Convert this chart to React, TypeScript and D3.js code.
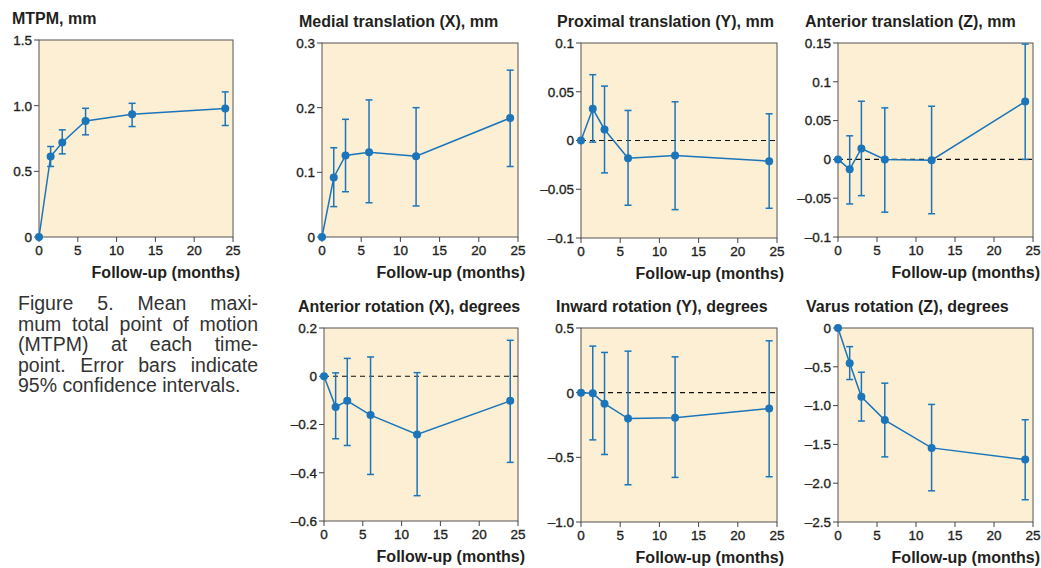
import React, { useEffect, useRef } from 'react'
import * as d3 from 'd3'

// follow-up time points (months)
const months = [0, 1.5, 3, 6, 12, 24]
const xTicks = [0, 5, 10, 15, 20, 25]

// MTPM, mm
const mtpmMean = [0, 0.613, 0.72, 0.884, 0.935, 0.978]
const mtpmLow = [null, 0.537, 0.633, 0.778, 0.841, 0.849]
const mtpmHigh = [null, 0.689, 0.816, 0.98, 1.018, 1.105]
const mtpmTicks = [0, 0.5, 1.0, 1.5]
const mtpmTickLabels = ['0', '0.5', '1.0', '1.5']

// Medial translation (X), mm
const medialMean = [0, 0.092, 0.126, 0.131, 0.125, 0.184]
const medialLow = [null, 0.047, 0.07, 0.053, 0.048, 0.109]
const medialHigh = [null, 0.138, 0.182, 0.212, 0.2, 0.258]
const medialTicks = [0, 0.1, 0.2, 0.3]
const medialTickLabels = ['0', '0.1', '0.2', '0.3']

// Proximal translation (Y), mm
const proximalMean = [0, 0.0325, 0.0113, -0.0182, -0.0154, -0.0212]
const proximalLow = [null, -0.0017, -0.0332, -0.0664, -0.0709, -0.0695]
const proximalHigh = [null, 0.0675, 0.0558, 0.0308, 0.0397, 0.0274]
const proximalTicks = [-0.1, -0.05, 0, 0.05, 0.1]
const proximalTickLabels = ['\u20130.1', '\u20130.05', '0', '0.05', '0.1']

// Anterior translation (Z), mm
const anteriorTMean = [0, -0.0128, 0.0141, 0, -0.001, 0.0745]
const anteriorTLow = [null, -0.0574, -0.0467, -0.068, -0.07, 0]
const anteriorTHigh = [null, 0.0304, 0.0749, 0.0664, 0.0685, 0.1486]
const anteriorTTicks = [-0.1, -0.05, 0, 0.05, 0.1, 0.15]
const anteriorTTickLabels = ['\u20130.1', '\u20130.05', '0', '0.05', '0.1', '0.15']

// Anterior rotation (X), degrees
const anteriorRMean = [0, -0.127, -0.102, -0.161, -0.241, -0.102]
const anteriorRLow = [null, -0.259, -0.287, -0.407, -0.495, -0.357]
const anteriorRHigh = [null, 0.014, 0.074, 0.08, 0.015, 0.149]
const anteriorRTicks = [-0.6, -0.4, -0.2, 0, 0.2]
const anteriorRTickLabels = ['\u20130.6', '\u20130.4', '\u20130.2', '0', '0.2']

// Inward rotation (Y), degrees
const inwardMean = [0, -0.005, -0.085, -0.2, -0.193, -0.123]
const inwardLow = [null, -0.365, -0.478, -0.712, -0.655, -0.65]
const inwardHigh = [null, 0.36, 0.311, 0.321, 0.277, 0.401]
const inwardTicks = [-1.0, -0.5, 0, 0.5]
const inwardTickLabels = ['\u20131.0', '\u20130.5', '0', '0.5']

// Varus rotation (Z), degrees
const varusMean = [0, -0.454, -0.886, -1.186, -1.545, -1.695]
const varusLow = [null, -0.664, -1.199, -1.661, -2.098, -2.213]
const varusHigh = [null, -0.24, -0.57, -0.711, -0.985, -1.182]
const varusTicks = [-2.5, -2.0, -1.5, -1.0, -0.5, 0]
const varusTickLabels = ['\u20132.5', '\u20132.0', '\u20131.5', '\u20131.0', '\u20130.5', '0']

const captionLines = [
  'Figure 5. Mean maxi-',
  'mum total point of motion',
  '(MTPM) at each time-',
  'point. Error bars indicate',
  '95% confidence intervals.'
]

const BLUE = '#1a75bb'
const BG = '#fdefd3'
const INK = '#231f20'
const FONT = '"Liberation Sans", Arial, Helvetica, sans-serif'

const Panel = ({ title, titleX, box, mean, low, high, yTicks, yLabels, zero }) => {
  const { l, r, t, b } = box
  const x = d3.scaleLinear().domain([0, 25]).range([l, r])
  const y = d3
    .scaleLinear()
    .domain([yTicks[0], yTicks[yTicks.length - 1]])
    .range([b, t])
  const line = d3
    .line()
    .x((d, i) => x(months[i]))
    .y(d => y(d))
  const cap = 3.5
  // tick labels are a medium weight in the original, fake it with a hairline stroke
  const tickText = { fontSize: 13.5, fill: INK, stroke: INK, strokeWidth: 0.35 }

  return (
    <g>
      <text x={titleX} y={t - 16} fontSize={16} fontWeight="bold" fill={INK}>
        {title}
      </text>
      <rect x={l} y={t} width={r - l} height={b - t} fill={BG} stroke="#555" strokeWidth={1} />
      {zero && (
        <line x1={l} x2={r} y1={y(0)} y2={y(0)} stroke="#111" strokeWidth={1.2} strokeDasharray="5,4" />
      )}
      {yTicks.map((v, i) => (
        <g key={'y' + i}>
          <line x1={l - 5} x2={l} y1={y(v)} y2={y(v)} stroke="#444" strokeWidth={1} />
          <text x={l - 7} y={y(v)} dy="0.36em" textAnchor="end" {...tickText}>
            {yLabels[i]}
          </text>
        </g>
      ))}
      {xTicks.map(v => (
        <g key={'x' + v}>
          <line x1={x(v)} x2={x(v)} y1={b} y2={b + 5} stroke="#444" strokeWidth={1} />
          <text x={x(v)} y={b + 18} textAnchor="middle" {...tickText}>
            {v}
          </text>
        </g>
      ))}
      <text x={r + 7} y={b + 41} textAnchor="end" fontSize={16} fontWeight="bold" fill={INK}>
        Follow-up (months)
      </text>
      {months.map((m, i) =>
        low[i] == null ? null : (
          <g key={'e' + i} stroke={BLUE} strokeWidth={1.5}>
            <line x1={x(m)} x2={x(m)} y1={y(low[i])} y2={y(high[i])} />
            <line x1={x(m) - cap} x2={x(m) + cap} y1={y(low[i])} y2={y(low[i])} />
            <line x1={x(m) - cap} x2={x(m) + cap} y1={y(high[i])} y2={y(high[i])} />
          </g>
        )
      )}
      <path d={line(mean)} fill="none" stroke={BLUE} strokeWidth={1.5} />
      {mean.map((v, i) => (
        <circle key={'p' + i} cx={x(months[i])} cy={y(v)} r={4} fill={BLUE} />
      ))}
    </g>
  )
}

const Caption = ({ x0, x1, y0, lh, size }) => {
  const ref = useRef(null)
  useEffect(() => {
    const g = d3.select(ref.current)
    g.selectAll('*').remove()
    captionLines.forEach((ln, li) => {
      const words = ln.split(' ')
      const nodes = words.map(w =>
        g
          .append('text')
          .attr('y', y0 + li * lh)
          .attr('font-size', size)
          .attr('fill', '#333')
          .text(w)
      )
      const widths = nodes.map(n => n.node().getComputedTextLength())
      const total = d3.sum(widths)
      const last = li === captionLines.length - 1
      const gap = last || words.length < 2 ? size * 0.28 : (x1 - x0 - total) / (words.length - 1)
      let cx = x0
      nodes.forEach((n, i) => {
        n.attr('x', cx)
        cx += widths[i] + gap
      })
    })
  }, [])
  return <g ref={ref} />
}

export default function App() {
  return (
    <svg
      width={1041}
      height={568}
      style={{ position: 'absolute', left: 0, top: 0, background: '#fff' }}
      fontFamily={FONT}
    >
      <rect width={1041} height={568} fill="#fff" />
      <Panel title="MTPM, mm" titleX={12} box={{ l: 39, r: 233, t: 40, b: 237 }}
        mean={mtpmMean} low={mtpmLow} high={mtpmHigh} yTicks={mtpmTicks} yLabels={mtpmTickLabels} zero={false} />
      <Panel title="Medial translation (X), mm" titleX={299} box={{ l: 322, r: 518, t: 43, b: 237 }}
        mean={medialMean} low={medialLow} high={medialHigh} yTicks={medialTicks} yLabels={medialTickLabels} zero={false} />
      <Panel title="Proximal translation (Y), mm" titleX={557} box={{ l: 581, r: 777, t: 43, b: 238 }}
        mean={proximalMean} low={proximalLow} high={proximalHigh} yTicks={proximalTicks} yLabels={proximalTickLabels} zero />
      <Panel title="Anterior translation (Z), mm" titleX={805} box={{ l: 838, r: 1033, t: 43, b: 237 }}
        mean={anteriorTMean} low={anteriorTLow} high={anteriorTHigh} yTicks={anteriorTTicks} yLabels={anteriorTTickLabels} zero />
      <Panel title="Anterior rotation (X), degrees" titleX={298} box={{ l: 324, r: 518, t: 328, b: 521 }}
        mean={anteriorRMean} low={anteriorRLow} high={anteriorRHigh} yTicks={anteriorRTicks} yLabels={anteriorRTickLabels} zero />
      <Panel title="Inward rotation (Y), degrees" titleX={556} box={{ l: 581, r: 777, t: 328, b: 522 }}
        mean={inwardMean} low={inwardLow} high={inwardHigh} yTicks={inwardTicks} yLabels={inwardTickLabels} zero />
      <Panel title="Varus rotation (Z), degrees" titleX={806} box={{ l: 838, r: 1033, t: 328, b: 522 }}
        mean={varusMean} low={varusLow} high={varusHigh} yTicks={varusTicks} yLabels={varusTickLabels} zero={false} />
      <Caption x0={18} x1={258} y0={310} lh={20.5} size={19.5} />
    </svg>
  )
}
